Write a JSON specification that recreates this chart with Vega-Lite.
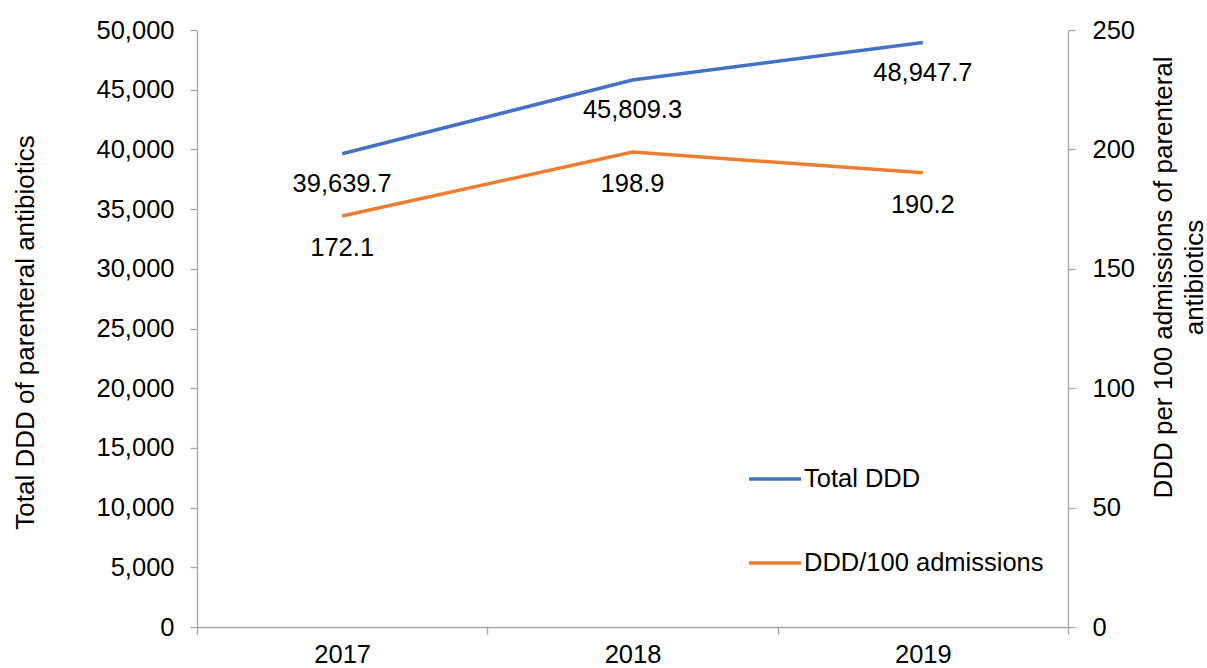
{
  "$schema": "https://vega.github.io/schema/vega-lite/v6.json",
  "width": 871,
  "height": 597,
  "autosize": {"type": "none"},
  "padding": {"left": 197, "top": 30, "right": 139, "bottom": 41},
  "background": "white",
  "config": {
    "font": "Liberation Sans",
    "view": {"stroke": null},
    "axis": {
      "grid": false,
      "domainColor": "#A6A6A6",
      "tickColor": "#A6A6A6",
      "domainWidth": 1.3,
      "tickWidth": 1.3,
      "tickSize": 7,
      "labelColor": "#000000",
      "titleColor": "#000000",
      "labelFont": "Liberation Sans",
      "titleFont": "Liberation Sans",
      "labelFontSize": 25.5,
      "titleFontSize": 26,
      "titleFontWeight": "normal"
    }
  },
  "data": {
    "values": [
      {"year": "2017", "series": "Total DDD", "value": 39639.7},
      {"year": "2018", "series": "Total DDD", "value": 45809.3},
      {"year": "2019", "series": "Total DDD", "value": 48947.7},
      {"year": "2017", "series": "DDD/100 admissions", "value": 172.1},
      {"year": "2018", "series": "DDD/100 admissions", "value": 198.9},
      {"year": "2019", "series": "DDD/100 admissions", "value": 190.2}
    ]
  },
  "encoding": {
    "x": {
      "field": "year",
      "type": "ordinal",
      "bandPosition": 0.5,
      "scale": {"type": "band", "paddingInner": 0, "paddingOuter": 0},
      "axis": {"title": null, "labelAngle": 0, "tickBand": "extent", "labelPadding": 8}
    }
  },
  "layer": [
    {
      "transform": [{"filter": "datum.series === 'Total DDD'"}],
      "encoding": {
        "y": {
          "field": "value",
          "type": "quantitative",
          "scale": {"domain": [0, 50000], "nice": false, "zero": true},
          "axis": {
            "orient": "left",
            "values": [0, 5000, 10000, 15000, 20000, 25000, 30000, 35000, 40000, 45000, 50000],
            "format": ",d",
            "labelPadding": 16,
            "title": "Total DDD of parenteral antibiotics",
            "titleAngle": -90,
            "titleX": -172,
            "titleY": 302,
            "titleAlign": "center",
            "titleBaseline": "middle"
          }
        }
      },
      "layer": [
        {
          "mark": {"type": "line", "strokeWidth": 3.5},
          "encoding": {
            "color": {
              "field": "series",
              "type": "nominal",
              "scale": {"domain": ["Total DDD", "DDD/100 admissions"], "range": ["#4472C4", "#ED7D31"]},
              "legend": {
                "orient": "none",
                "legendX": 550,
                "legendY": 421,
                "title": null,
                "direction": "vertical",
                "symbolType": "stroke",
                "symbolSize": 2704,
                "symbolStrokeWidth": 3.5,
                "labelFontSize": 25.5,
                "labelColor": "#000000",
                "labelFont": "Liberation Sans",
                "labelOffset": 1,
                "labelLimit": 400,
                "rowPadding": 42
              }
            }
          }
        },
        {
          "mark": {"type": "text", "baseline": "middle", "dy": 30, "fontSize": 25.5, "color": "#000000"},
          "encoding": {"text": {"field": "value", "type": "quantitative", "format": ",.1f"}}
        }
      ]
    },
    {
      "transform": [{"filter": "datum.series === 'DDD/100 admissions'"}],
      "encoding": {
        "y": {
          "field": "value",
          "type": "quantitative",
          "scale": {"domain": [0, 250], "nice": false, "zero": true},
          "axis": {
            "orient": "right",
            "values": [0, 50, 100, 150, 200, 250],
            "labelPadding": 17,
            "title": ["DDD per 100 admissions of parenteral", "antibiotics"],
            "titleAngle": -90,
            "titleX": 95,
            "titleY": 247,
            "titleAlign": "center",
            "titleBaseline": "middle",
            "titleLineHeight": 31
          }
        }
      },
      "layer": [
        {
          "mark": {"type": "line", "strokeWidth": 3.5},
          "encoding": {"color": {"field": "series", "type": "nominal"}}
        },
        {
          "mark": {"type": "text", "baseline": "middle", "dy": 32, "fontSize": 25.5, "color": "#000000"},
          "encoding": {"text": {"field": "value", "type": "quantitative", "format": ",.1f"}}
        }
      ]
    }
  ],
  "resolve": {"scale": {"y": "independent"}}
}
